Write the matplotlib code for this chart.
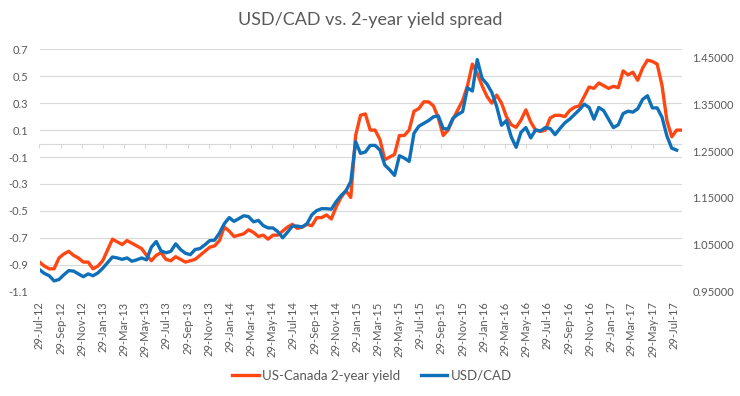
import matplotlib
matplotlib.use('Agg')
import matplotlib.pyplot as plt
import matplotlib.dates as mdates
from matplotlib.ticker import FixedLocator, NullFormatter
import pandas as pd
from datetime import datetime

plt.rcParams['font.family'] = ['Lato', 'DejaVu Sans']

title = "USD/CAD vs. 2-year yield spread"
series_names = ["US-Canada 2-year yield", "USD/CAD"]
start_date = "2012-07-29"

# US-Canada 2-year yield spread (left axis), biweekly
spread = [
    -0.88, -0.91, -0.93, -0.93, -0.85, -0.82, -0.80, -0.83, -0.85, -0.88,
    -0.88, -0.93, -0.91, -0.87, -0.79, -0.71, -0.73, -0.75, -0.72, -0.74,
    -0.76, -0.78, -0.83, -0.87, -0.83, -0.81, -0.86, -0.87, -0.84, -0.86,
    -0.88, -0.87, -0.86, -0.83, -0.80, -0.77, -0.76, -0.72, -0.62, -0.65,
    -0.69, -0.68, -0.67, -0.64, -0.66, -0.69, -0.68, -0.71, -0.68, -0.68,
    -0.65, -0.62, -0.60, -0.63, -0.62, -0.60, -0.61, -0.55, -0.55, -0.53,
    -0.56, -0.47, -0.40, -0.35, -0.40, 0.06, 0.21, 0.22, 0.10, 0.10,
    0.03, -0.12, -0.10, -0.08, 0.06, 0.06, 0.10, 0.24, 0.26, 0.31,
    0.31, 0.28, 0.19, 0.06, 0.10, 0.18, 0.25, 0.32, 0.43, 0.59,
    0.52, 0.43, 0.35, 0.30, 0.36, 0.30, 0.20, 0.14, 0.12, 0.175,
    0.25, 0.16, 0.10, 0.09, 0.10, 0.19, 0.21, 0.21, 0.20, 0.245,
    0.27, 0.28, 0.35, 0.42, 0.41, 0.45, 0.43, 0.41, 0.425, 0.415,
    0.54, 0.51, 0.53, 0.47, 0.56, 0.62, 0.61, 0.59, 0.43, 0.17,
    0.05, 0.10, 0.10,
]

# USD/CAD (right axis), biweekly
usdcad = [
    0.997, 0.989, 0.984, 0.973, 0.976, 0.986, 0.995, 0.994, 0.988, 0.982,
    0.988, 0.984, 0.990, 1.000, 1.012, 1.024, 1.022, 1.019, 1.022, 1.015,
    1.018, 1.022, 1.018, 1.045, 1.057, 1.037, 1.033, 1.036, 1.052, 1.040,
    1.032, 1.029, 1.040, 1.042, 1.050, 1.059, 1.060, 1.075, 1.095, 1.108,
    1.100, 1.106, 1.112, 1.110, 1.099, 1.102, 1.091, 1.086, 1.086, 1.078,
    1.065, 1.077, 1.090, 1.090, 1.088, 1.095, 1.114, 1.123, 1.127, 1.127,
    1.126, 1.142, 1.155, 1.165, 1.185, 1.270, 1.245, 1.248, 1.262, 1.262,
    1.252, 1.220, 1.210, 1.198, 1.240, 1.235, 1.228, 1.288, 1.303, 1.309,
    1.315, 1.323, 1.325, 1.298, 1.297, 1.320, 1.328, 1.334, 1.385, 1.378,
    1.445, 1.405, 1.393, 1.375, 1.345, 1.305, 1.315, 1.280, 1.258, 1.290,
    1.300, 1.278, 1.295, 1.293, 1.300, 1.298, 1.285, 1.298, 1.310, 1.318,
    1.328, 1.338, 1.350, 1.343, 1.318, 1.343, 1.336, 1.318, 1.300, 1.306,
    1.330, 1.335, 1.333, 1.340, 1.360, 1.368, 1.342, 1.342, 1.322, 1.282,
    1.256, 1.252,
]

left_ticks = [0.7, 0.5, 0.3, 0.1, -0.1, -0.3, -0.5, -0.7, -0.9, -1.1]
right_ticks = [0.95, 1.05, 1.15, 1.25, 1.35, 1.45]
tick_dates = [datetime(y, m, 29) for y in range(2012, 2018) for m in (1, 3, 5, 7, 9, 11)
              if datetime(2012, 7, 29) <= datetime(y, m, 29) <= datetime(2017, 7, 29)]

RED = '#FF4713'
BLUE = '#0F6FB9'
GRID = '#D9D9D9'
TXT = '#595959'

spread_dates = pd.date_range(start_date, periods=len(spread), freq='14D')
usdcad_dates = pd.date_range(start_date, periods=len(usdcad), freq='14D')

W, H = 740, 396
fig = plt.figure(figsize=(W / 100, H / 100), dpi=100)
L, R, T, B = 39.5, 681.5, 49.3, 291.7
ax = fig.add_axes([L / W, 1 - B / H, (R - L) / W, (B - T) / H])
ax2 = ax.twinx()

l1, = ax.plot(spread_dates, spread, color=RED, lw=2.4, solid_joinstyle='round', zorder=3)
l2, = ax2.plot(usdcad_dates, usdcad, color=BLUE, lw=2.4, solid_joinstyle='round', zorder=3)

ax.set_ylim(-1.1, 0.7)
ax.set_yticks(left_ticks)
ax.set_yticklabels([f"{v:.1f}" for v in left_ticks])
ax2.set_ylim(0.95, 1.467)
ax2.set_yticks(right_ticks)
ax2.set_yticklabels([f"{v:.5f}" for v in right_ticks])
ax.set_xlim(spread_dates[0], spread_dates[-1])

ax.grid(axis='y', color=GRID, lw=0.8)
ax.grid(axis='x', visible=False)
ax.set_axisbelow(True)
for a in (ax, ax2):
    for s in a.spines.values():
        s.set_visible(False)

ax.tick_params(axis='y', length=0, pad=8, labelcolor=TXT, labelsize=8)
ax2.tick_params(axis='y', length=0, pad=7.8, labelcolor=TXT, labelsize=8)

ax.xaxis.set_major_locator(FixedLocator(mdates.date2num(tick_dates)))
ax.xaxis.set_major_formatter(mdates.DateFormatter('%d-%b-%y'))
ax.tick_params(axis='x', length=0, pad=7, labelcolor=TXT, labelsize=8, labelrotation=90)

# horizontal category axis crossing at 0 on the primary axis
zero_loc = (0 - (-1.1)) / (0.7 - (-1.1))
sec = ax.secondary_xaxis(zero_loc)
sec.set_alignment('bottom')
sec.xaxis.set_major_locator(FixedLocator(mdates.date2num(tick_dates)))
sec.xaxis.set_major_formatter(NullFormatter())
sec.tick_params(axis='x', length=3, width=0.8, color=GRID, labelbottom=False)
sec.spines['bottom'].set_color(GRID)
sec.spines['bottom'].set_linewidth(0.8)

fig.text(0.5, 1 - 20 / H, title, ha='center', va='center', fontsize=13, color=TXT)

fig.legend(handles=[l1, l2], labels=series_names, loc='center',
           bbox_to_anchor=(372 / W, 1 - 376 / H), ncol=2, frameon=False,
           fontsize=9.5, handlelength=2, handletextpad=0.25, columnspacing=1.6,
           labelcolor=TXT)

fig.savefig('out.png', dpi=100)
